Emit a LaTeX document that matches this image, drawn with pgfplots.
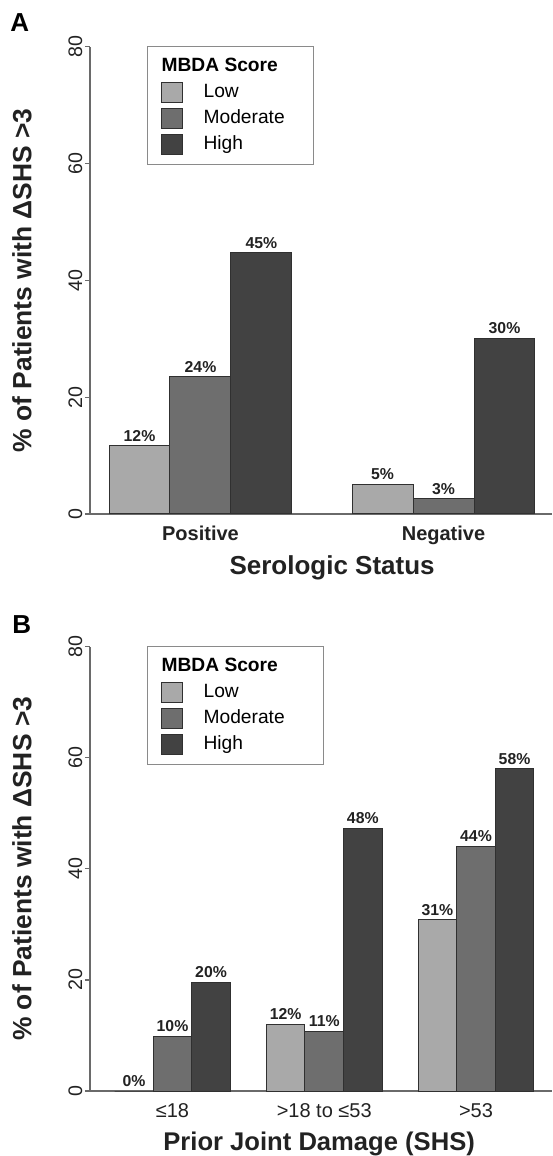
\documentclass[border=0pt]{standalone}
\usepackage{fontspec}
\setmainfont{Liberation Sans}
\usepackage{pgfplots}
\usepackage{pgfplotstable}
\pgfplotsset{compat=1.18}

\definecolor{cLow}{HTML}{A9A9A9}
\definecolor{cMod}{HTML}{6E6E6E}
\definecolor{cHigh}{HTML}{424242}
\definecolor{cEdge}{HTML}{303030}
\definecolor{cAxis}{HTML}{6A6A6A}
\definecolor{cLeg}{HTML}{8A8A8A}
\definecolor{cText}{HTML}{222222}

\pgfplotstableread{
x lowy lowl mody modl highy highl
0 11.7 12 23.5 24 44.7 45
1 5.1 5 2.6 3 30.1 30
}\dataA

\pgfplotstableread{
x lowy lowl mody modl highy highl
0 0 0 9.8 10 19.6 20
1 12.0 12 10.8 11 47.3 48
2 30.8 31 44.1 44 58.0 58
}\dataB

\pgfplotsset{
 sw/.style={legend image code/.code={\draw[##1] (0pt,-5pt) rectangle (10.5pt,5pt);}},
 mbda/.style={
  scale only axis, width=231pt,
  ybar,
  ymin=0, ymax=80, ytick={0,20,40,60,80},
  axis x line=bottom, axis y line=left,
  axis line style={draw=cAxis, line width=0.6pt, -},
  xtick style={draw=none},
  ytick style={draw=cAxis, line width=0.6pt},
  major tick length=2.6pt, tick align=outside,
  /pgf/number format/assume math mode=true,
  yticklabel style={rotate=90, anchor=south, inner sep=1pt, font=\fontsize{9.8}{11}\selectfont, text=cText},
  bar width=0.251,
  nodes near coords={\pgfplotspointmeta\%},
  nodes near coords style={font=\bfseries\fontsize{7.9}{9}\selectfont, text=cText, anchor=south, inner sep=0pt, yshift=2pt},
  point meta=explicit symbolic,
  legend style={at={(0.1234,1.002)}, anchor=north west, draw=cLeg, line width=0.6pt,
     font=\fontsize{9.6}{11}\selectfont, text=black, inner xsep=6.5pt, inner ysep=3.5pt,
     row sep=0pt, column sep=10.5pt, nodes={inner sep=0pt, minimum height=13pt}},
  legend cell align=left,
  ylabel={\% of Patients with ΔSHS >3},
  ylabel style={font=\bfseries\fontsize{13.2}{15}\selectfont, text=cText, anchor=center},
 }
}

\begin{document}
\begin{tikzpicture}
% Panel A
\begin{axis}[mbda, at={(45pt,-23.35pt)}, anchor=north west, height=233.65pt,
  xmin=-0.4547, xmax=1.4465, xtick={0,1}, xticklabels={Positive,Negative},
  xticklabel style={font=\bfseries\fontsize{10}{12}\selectfont, text=cText},
  xlabel={Serologic Status},
  xlabel style={font=\bfseries\fontsize{13}{15}\selectfont, text=cText, at={(axis description cs:0.524,0)}, anchor=base, yshift=-30.5pt},
  ylabel style={at={(axis description cs:-0.147,0.50)}}]
\addlegendimage{empty legend}\addlegendentry{\hspace*{-21pt}\textbf{MBDA Score}}
\addplot[fill=cLow, draw=cEdge, line width=0.5pt, bar shift=-0.251, sw]
  table[x=x, y=lowy, meta=lowl]{\dataA};
\addlegendentry{Low}
\addplot[fill=cMod, draw=cEdge, line width=0.5pt, bar shift=0, sw]
  table[x=x, y=mody, meta=modl]{\dataA};
\addlegendentry{Moderate\hspace*{8pt}}
\addplot[fill=cHigh, draw=cEdge, line width=0.5pt, bar shift=0.251, sw]
  table[x=x, y=highy, meta=highl]{\dataA};
\addlegendentry{High}
\end{axis}

% Panel B
\begin{axis}[mbda, at={(45pt,-323.35pt)}, anchor=north west, height=222.15pt,
  xmin=-0.5437, xmax=2.5008, xtick={0,1,2}, xticklabels={≤18,>18 to ≤53,>53},
  xticklabel style={font=\fontsize{10}{12}\selectfont, text=cText},
  bar width=0.254,
  xlabel={Prior Joint Damage (SHS)},
  xlabel style={font=\bfseries\fontsize{12.8}{15}\selectfont, text=cText, at={(axis description cs:0.496,0)}, anchor=base, yshift=-29.5pt},
  ylabel style={at={(axis description cs:-0.147,0.50)}}]
\addlegendimage{empty legend}\addlegendentry{\hspace*{-21pt}\textbf{MBDA Score}}
\addplot[fill=cLow, draw=cEdge, line width=0.5pt, bar shift=-0.254, sw]
  table[x=x, y=lowy, meta=lowl]{\dataB};
\addlegendentry{Low}
\addplot[fill=cMod, draw=cEdge, line width=0.5pt, bar shift=0, sw]
  table[x=x, y=mody, meta=modl]{\dataB};
\addlegendentry{Moderate\hspace*{13pt}}
\addplot[fill=cHigh, draw=cEdge, line width=0.5pt, bar shift=0.254, sw]
  table[x=x, y=highy, meta=highl]{\dataB};
\addlegendentry{High}
\end{axis}

\node[anchor=base west, font=\bfseries\fontsize{13}{15}\selectfont, inner sep=0pt] at (5pt,-16pt) {A};
\node[anchor=base west, font=\bfseries\fontsize{13}{15}\selectfont, inner sep=0pt] at (6pt,-316.5pt) {B};

\pgfresetboundingbox
\path (0pt,0pt) rectangle (276pt,-578pt);
\end{tikzpicture}
\end{document}
